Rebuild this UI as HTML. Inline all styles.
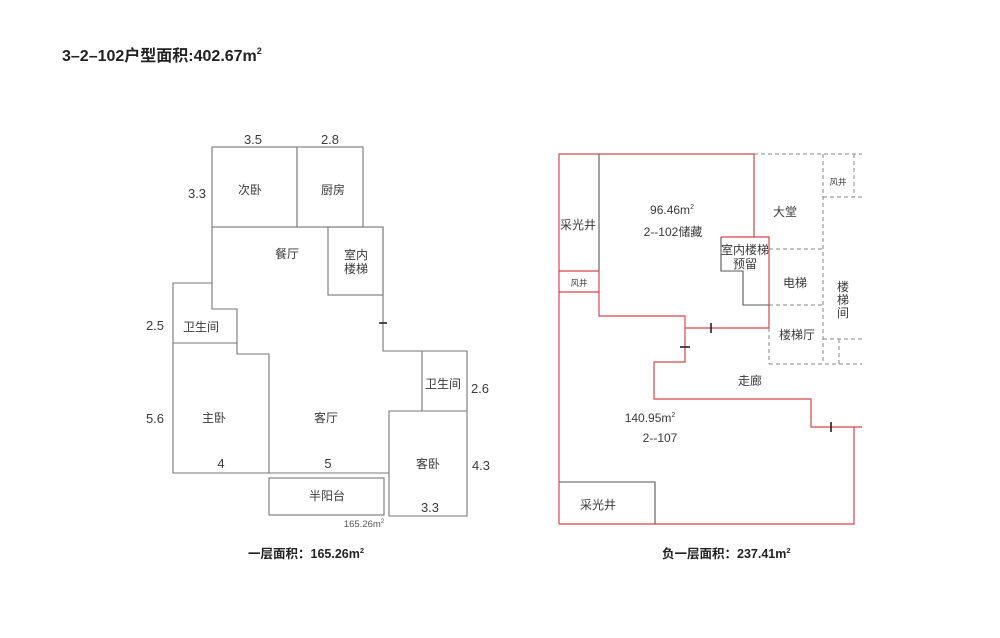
<!DOCTYPE html>
<html><head><meta charset="utf-8">
<style>
html,body{margin:0;padding:0;background:#fff;}
body{width:1000px;height:638px;overflow:hidden;}
svg{display:block;}
text{font-family:"Liberation Sans","Noto Sans CJK SC",sans-serif;fill:#3a3a3a;}
</style></head>
<body>
<svg width="1000" height="638" viewBox="0 0 1000 638" xmlns="http://www.w3.org/2000/svg">
<rect width="1000" height="638" fill="#fff"/>
<!-- Title -->
<text x="62" y="61" font-size="16" font-weight="bold" style="fill:#222">3–2–102户型面积:402.67m<tspan font-size="9" dy="-7">2</tspan></text>

<!-- LEFT PLAN -->
<g fill="none" stroke="#777" stroke-width="1.1">
  <rect x="212" y="147" width="85" height="80"/>
  <rect x="297" y="147" width="66" height="80"/>
  <polyline points="212,227 212,283 173,283 173,473 389,473"/>
  <polyline points="212,283 212,309 237,309 237,354 269,354 269,473"/>
  <line x1="173" y1="343" x2="237" y2="343"/>
  <rect x="328" y="227" width="55" height="68"/>
  <polyline points="363,227 383,227 383,351 467,351 467,516 389,516 389,411 467,411"/>
  <line x1="422" y1="351" x2="422" y2="411"/>
  <rect x="269" y="478" width="115" height="37"/>
</g>
<line x1="379" y1="323" x2="387" y2="323" stroke="#222" stroke-width="1.6"/>

<g font-size="13" text-anchor="middle">
  <text x="253" y="144">3.5</text>
  <text x="330" y="144">2.8</text>
  <text x="197" y="198">3.3</text>
  <text x="155" y="330">2.5</text>
  <text x="155" y="423">5.6</text>
  <text x="221" y="468">4</text>
  <text x="328" y="468">5</text>
  <text x="480" y="393">2.6</text>
  <text x="481" y="470">4.3</text>
  <text x="430" y="512">3.3</text>
</g>
<g font-size="12" text-anchor="middle">
  <text x="250" y="194">次卧</text>
  <text x="333" y="194">厨房</text>
  <text x="287" y="258">餐厅</text>
  <text x="356" y="259">室内</text>
  <text x="356" y="273">楼梯</text>
  <text x="201" y="331">卫生间</text>
  <text x="214" y="422">主卧</text>
  <text x="326" y="422">客厅</text>
  <text x="443" y="388">卫生间</text>
  <text x="428" y="468">客卧</text>
  <text x="327" y="500">半阳台</text>
</g>
<text x="364" y="527" font-size="9.5" text-anchor="middle" style="fill:#555">165.26m<tspan font-size="6" dy="-4">2</tspan></text>
<text x="248" y="558" font-size="12.5" font-weight="bold" style="fill:#222">一层面积：165.26m<tspan font-size="7.5" dy="-5">2</tspan></text>

<!-- RIGHT PLAN -->
<g fill="none" stroke="#888" stroke-width="1" stroke-dasharray="4,3">
  <line x1="754" y1="154" x2="862" y2="154"/>
  <line x1="823" y1="154" x2="823" y2="364"/>
  <line x1="854" y1="154" x2="854" y2="197"/>
  <line x1="823" y1="197" x2="862" y2="197"/>
  <line x1="769" y1="249" x2="823" y2="249"/>
  <line x1="769" y1="305" x2="823" y2="305"/>
  <line x1="769" y1="328" x2="769" y2="364"/>
  <line x1="769" y1="364" x2="862" y2="364"/>
  <line x1="823" y1="339" x2="862" y2="339"/>
  <line x1="839" y1="339" x2="839" y2="364"/>
</g>
<g fill="none" stroke="#555" stroke-width="1.1">
  <line x1="599" y1="154" x2="599" y2="271"/>
  <polyline points="721,237 721,271 743,271 743,305 769,305"/>
  <polyline points="559,482 655,482 655,524"/>
</g>
<g fill="none" stroke="#d4474d" stroke-width="1.2">
  <polyline points="559,524 559,154 754,154 754,237"/>
  <polyline points="721,237 769,237 769,328 685,328"/>
  <polyline points="559,271 599,271"/>
  <polyline points="559,292 599,292"/>
  <polyline points="599,271 599,316 685,316 685,362 654,362 654,399 811,399 811,427 862,427"/>
  <polyline points="854,427 854,524 559,524"/>
</g>
<g stroke="#222" stroke-width="1.6">
  <line x1="711" y1="323" x2="711" y2="333"/>
  <line x1="680" y1="347" x2="690" y2="347"/>
  <line x1="831" y1="422" x2="831" y2="432"/>
</g>

<g font-size="12" text-anchor="middle">
  <text x="578" y="229">采光井</text>
  <text x="672" y="214">96.46m<tspan font-size="7" dy="-5">2</tspan></text>
  <text x="673" y="236">2--102储藏</text>
  <text x="745" y="254">室内楼梯</text>
  <text x="745" y="268">预留</text>
  <text x="785" y="216">大堂</text>
  <text x="795" y="287">电梯</text>
  <text x="797" y="339">楼梯厅</text>
  <text x="843" y="291">楼</text>
  <text x="843" y="304">梯</text>
  <text x="843" y="317">间</text>
  <text x="750" y="385">走廊</text>
  <text x="650" y="422">140.95m<tspan font-size="7" dy="-5">2</tspan></text>
  <text x="660" y="442">2--107</text>
  <text x="598" y="509">采光井</text>
</g>
<g font-size="8.5" text-anchor="middle">
  <text x="579" y="286">风井</text>
  <text x="838" y="185">风井</text>
</g>
<text x="662" y="558" font-size="12.5" font-weight="bold" style="fill:#222">负一层面积：237.41m<tspan font-size="7.5" dy="-5">2</tspan></text>
</svg>
</body></html>
